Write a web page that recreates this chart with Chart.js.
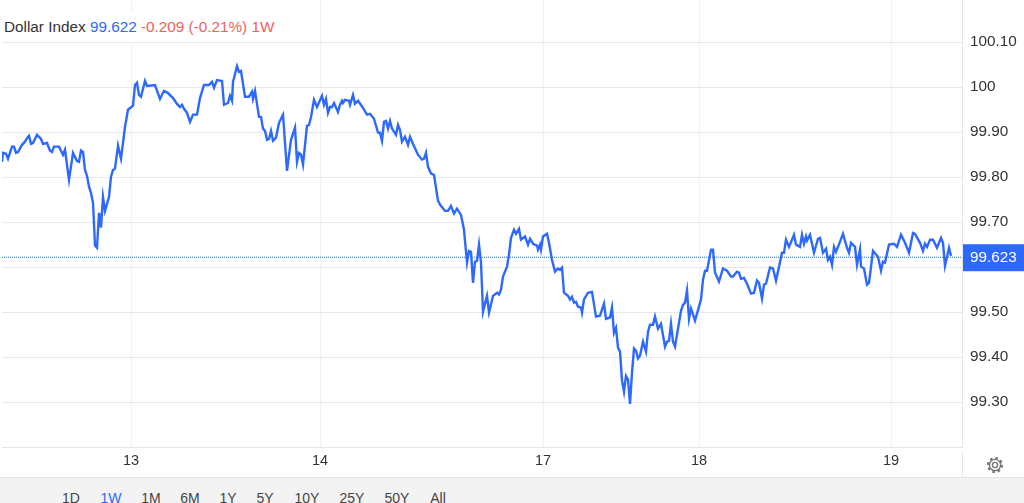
<!DOCTYPE html>
<html>
<head>
<meta charset="utf-8">
<title>Dollar Index</title>
<script src="https://cdn.jsdelivr.net/npm/chart.js@4"></script>
<style>
html, body { margin: 0; padding: 0; background: #fff; overflow: hidden; }
body { width: 1024px; height: 503px; position: relative; font-family: "Liberation Sans", Arial, sans-serif; }
#chart { position: absolute; left: 0; top: 0; }
#legend { position: absolute; left: 2px; top: 12px; height: 30px; line-height: 30px; padding-left: 2px; padding-right: 2px; background: #fff; font-size: 15.3px; white-space: nowrap; color: #333; }
#legend .last { color: #2d68ff; }
#legend .chg { color: #f25f5c; }
#footer { position: absolute; left: 0; top: 477px; width: 1024px; height: 26px; background: #f3f3f3; border-top: 1px solid #e4e4e4; box-sizing: border-box; overflow: hidden; }
#footer span { position: absolute; top: 12px; font-size: 14px; line-height: 16px; color: #444; transform: translateX(-50%); }
#footer span.on { color: #2d68ff; }
#gear { position: absolute; left: 985px; top: 455px; }
</style>
</head>
<body>
<canvas id="chart" width="1024" height="477" style="width:1024px;height:477px"></canvas>
<div id="legend">Dollar Index <span class="last">99.622</span> <span class="chg">-0.209 (-0.21%) 1W</span></div>
<svg id="gear" width="20" height="20" viewBox="0 0 20 20" fill="none" stroke="#777">
  <circle cx="10" cy="10" r="2.6" stroke-width="1.4"></circle>
  <circle cx="10" cy="10" r="5.6" stroke-width="1.4"></circle>
  <circle cx="10" cy="10" r="7" stroke-width="2.2" stroke-dasharray="2.7 2.8"></circle>
</svg>
<div id="footer"></div>
<script>
// Position along the time axis and the index value at that position
const times = [
    2, 3, 6, 8, 12, 14, 16, 18, 22, 25, 28, 29,
    31, 33, 37, 41, 43, 47, 50, 52, 54, 59, 63, 65,
    69, 73, 77, 79, 81, 83, 85, 87, 89, 91, 93, 95,
    97, 99, 101, 103, 105, 109, 111, 113, 115, 118, 121, 125,
    128, 133, 135, 137, 139, 141, 145, 147, 155, 160, 164, 168,
    173, 177, 180, 182, 184, 187, 190, 193, 197, 200, 204, 209,
    212, 214, 217, 222, 224, 228, 230, 232, 233, 237, 239, 241,
    245, 249, 252, 253, 255, 259, 261, 263, 265, 267, 269, 271,
    273, 276, 279, 283, 287, 291, 295, 297, 299, 301, 303, 307,
    309, 311, 314, 317, 322, 324, 326, 328, 330, 332, 334, 338,
    340, 342, 343, 345, 349, 350, 353, 355, 358, 363, 367, 370,
    374, 378, 380, 382, 384, 386, 388, 390, 392, 396, 398, 400,
    402, 405, 408, 410, 413, 418, 422, 424, 426, 428, 431, 434,
    438, 440, 445, 448, 451, 454, 457, 461, 464, 467, 469, 471,
    473, 475, 477, 479, 481, 483, 487, 489, 493, 497, 499, 501,
    503, 507, 509, 511, 514, 516, 519, 521, 525, 528, 530, 533,
    537, 538, 540, 541, 543, 547, 549, 552, 555, 558, 560, 562,
    564, 568, 570, 572, 574, 576, 578, 581, 582, 584, 588, 592,
    596, 600, 604, 606, 610, 612, 614, 616, 618, 620, 622, 624,
    626, 628, 630, 632, 634, 636, 638, 640, 643, 646, 648, 650,
    653, 655, 658, 661, 665, 667, 669, 671, 673, 675, 681, 683,
    685, 687, 689, 691, 695, 701, 703, 705, 707, 711, 713, 715,
    719, 723, 727, 731, 733, 737, 739, 741, 744, 747, 751, 754,
    757, 759, 762, 764, 766, 770, 773, 776, 779, 782, 784, 786,
    789, 794, 796, 800, 802, 804, 806, 807, 810, 814, 818, 820,
    823, 826, 828, 830, 832, 834, 836, 838, 843, 847, 849, 851,
    855, 857, 860, 861, 864, 867, 869, 873, 878, 881, 883, 885,
    889, 894, 897, 901, 905, 909, 913, 915, 920, 923, 925, 927,
    930, 933, 937, 941, 943, 945, 949, 951
];
const closes = [
    99.834, 99.854, 99.852, 99.841, 99.868, 99.868, 99.854, 99.856, 99.872, 99.879, 99.890, 99.892,
    99.874, 99.876, 99.894, 99.885, 99.874, 99.876, 99.859, 99.856, 99.868, 99.868, 99.850, 99.861,
    99.794, 99.854, 99.836, 99.834, 99.859, 99.856, 99.816, 99.803, 99.779, 99.765, 99.743, 99.648,
    99.643, 99.721, 99.688, 99.756, 99.725, 99.756, 99.801, 99.816, 99.819, 99.870, 99.841, 99.912,
    99.950, 99.959, 100.005, 100.010, 99.983, 99.979, 100.014, 100.003, 100.005, 99.974, 99.992, 99.987,
    99.976, 99.963, 99.956, 99.961, 99.952, 99.943, 99.923, 99.939, 99.939, 99.976, 100.005, 100.005,
    100.012, 99.999, 100.016, 100.014, 99.961, 99.965, 99.981, 99.970, 100.012, 100.047, 100.034, 100.036,
    99.979, 99.979, 99.990, 99.974, 99.992, 99.934, 99.934, 99.908, 99.903, 99.883, 99.885, 99.903,
    99.881, 99.888, 99.921, 99.939, 99.814, 99.883, 99.910, 99.834, 99.854, 99.850, 99.828, 99.914,
    99.916, 99.934, 99.972, 99.956, 99.981, 99.961, 99.974, 99.943, 99.956, 99.956, 99.965, 99.945,
    99.961, 99.970, 99.965, 99.972, 99.970, 99.961, 99.983, 99.963, 99.970, 99.954, 99.939, 99.941,
    99.930, 99.899, 99.899, 99.881, 99.923, 99.925, 99.908, 99.925, 99.908, 99.894, 99.916, 99.905,
    99.879, 99.890, 99.872, 99.890, 99.874, 99.850, 99.839, 99.841, 99.854, 99.823, 99.808, 99.805,
    99.748, 99.739, 99.725, 99.725, 99.736, 99.719, 99.730, 99.716, 99.683, 99.610, 99.636, 99.634,
    99.565, 99.612, 99.614, 99.650, 99.610, 99.501, 99.536, 99.499, 99.536, 99.543, 99.539, 99.550,
    99.579, 99.601, 99.628, 99.665, 99.683, 99.674, 99.685, 99.661, 99.668, 99.650, 99.663, 99.652,
    99.648, 99.639, 99.650, 99.639, 99.668, 99.674, 99.654, 99.616, 99.590, 99.597, 99.594, 99.599,
    99.543, 99.536, 99.528, 99.534, 99.521, 99.523, 99.512, 99.510, 99.499, 99.528, 99.543, 99.545,
    99.490, 99.492, 99.519, 99.485, 99.488, 99.510, 99.454, 99.465, 99.421, 99.412, 99.348, 99.323,
    99.358, 99.350, 99.296, 99.365, 99.419, 99.414, 99.397, 99.403, 99.434, 99.412, 99.456, 99.472,
    99.472, 99.490, 99.463, 99.474, 99.423, 99.434, 99.436, 99.474, 99.434, 99.423, 99.503, 99.516,
    99.521, 99.548, 99.485, 99.508, 99.481, 99.528, 99.572, 99.592, 99.592, 99.639, 99.639, 99.588,
    99.568, 99.597, 99.592, 99.579, 99.579, 99.590, 99.588, 99.574, 99.576, 99.563, 99.541, 99.543,
    99.570, 99.565, 99.530, 99.561, 99.563, 99.599, 99.597, 99.570, 99.601, 99.632, 99.632, 99.661,
    99.645, 99.672, 99.650, 99.645, 99.672, 99.652, 99.668, 99.659, 99.672, 99.632, 99.663, 99.665,
    99.632, 99.641, 99.616, 99.623, 99.605, 99.645, 99.634, 99.645, 99.674, 99.643, 99.632, 99.654,
    99.645, 99.605, 99.639, 99.601, 99.597, 99.561, 99.565, 99.636, 99.623, 99.592, 99.612, 99.610,
    99.650, 99.652, 99.645, 99.672, 99.654, 99.632, 99.676, 99.674, 99.654, 99.636, 99.652, 99.645,
    99.661, 99.661, 99.643, 99.665, 99.654, 99.603, 99.643, 99.625
];

const dayTicks = [131, 320, 543, 699, 891];
const dayLabels = ['13', '14', '17', '18', '19'];
const priceTicks = [99.2, 99.3, 99.4, 99.5, 99.6, 99.7, 99.8, 99.9, 100, 100.1];
const priceLabels = ['', '99.30', '99.40', '99.50', '', '99.70', '99.80', '99.90', '100', '100.10'];
const lastPrice = 99.622;
const lastPriceLabel = '99.623';
const periods = ['1D', '1W', '1M', '6M', '1Y', '5Y', '10Y', '25Y', '50Y', 'All'];
const periodCenters = [71, 111, 151, 190, 228, 265, 307, 352, 397, 438];

// Range buttons under the chart
const footer = document.getElementById('footer');
periods.forEach((p, i) => {
    const el = document.createElement('span');
    el.textContent = p;
    el.style.left = periodCenters[i] + 'px';
    if (p === '1W') el.className = 'on';
    footer.appendChild(el);
});

// Blue price tag on the axis, and the axis line stub under the plot
const priceTag = {
    id: 'priceTag',
    afterDraw(chart) {
        const { ctx, chartArea } = chart;
        const y = chart.scales.y.getPixelForValue(lastPrice);
        ctx.save();
        ctx.strokeStyle = '#e6e6e6';
        ctx.lineWidth = 1;
        ctx.beginPath();
        ctx.moveTo(chartArea.right + 0.5, chartArea.bottom + 5);
        ctx.lineTo(chartArea.right + 0.5, 477);
        ctx.stroke();
        ctx.fillStyle = '#2d68ff';
        ctx.fillRect(chartArea.right + 1, y - 13, 1024 - chartArea.right - 1, 27);
        ctx.fillStyle = '#fff';
        ctx.font = '15.3px "Liberation Sans", Arial, sans-serif';
        ctx.textAlign = 'left';
        ctx.textBaseline = 'middle';
        ctx.fillText(lastPriceLabel, chartArea.right + 8, y + 1);
        ctx.restore();
    }
};

const ctx = document.getElementById('chart').getContext('2d');
new Chart(ctx, {
    type: 'line',
    data: {
        datasets: [{
            label: 'Last',
            data: [{ x: 2, y: lastPrice }, { x: 962, y: lastPrice }],
            borderColor: '#2d68ff',
            borderWidth: 1,
            borderDash: [1, 1],
            pointRadius: 0
        }, {
            label: 'Dollar Index',
            data: times.map((t, i) => ({ x: t, y: closes[i] })),
            borderColor: '#2d68ff',
            borderWidth: 2.4,
            pointRadius: 0,
            tension: 0
        }]
    },
    options: {
        responsive: false,
        animation: false,
        devicePixelRatio: 1,
        layout: { padding: { left: 2, top: 0, right: 0, bottom: 0 } },
        plugins: { legend: { display: false }, tooltip: { enabled: false } },
        scales: {
            x: {
                type: 'linear',
                min: 2,
                max: 962,
                afterBuildTicks(axis) {
                    axis.ticks = dayTicks.map(v => ({ value: v }));
                },
                afterFit(axis) {
                    axis.height = 30;
                    axis.paddingLeft = 0;
                    axis.paddingRight = 0;
                },
                ticks: {
                    autoSkip: false,
                    maxRotation: 0,
                    padding: 5,
                    color: '#333',
                    font: { family: '"Liberation Sans", Arial, sans-serif', size: 14.5 },
                    callback: value => dayLabels[dayTicks.indexOf(value)]
                },
                grid: { color: '#f2f2f2', drawTicks: false },
                border: { color: '#e6e6e6' }
            },
            y: {
                type: 'linear',
                position: 'right',
                min: 99.2,
                max: 100.194,
                afterBuildTicks(axis) {
                    axis.ticks = priceTicks.map(v => ({ value: v }));
                },
                afterFit(axis) {
                    axis.width = 62;
                    axis.paddingTop = 0;
                    axis.paddingBottom = 0;
                },
                ticks: {
                    autoSkip: false,
                    padding: 8,
                    color: '#333',
                    font: { family: '"Liberation Sans", Arial, sans-serif', size: 15.3 },
                    callback: value => priceLabels[priceTicks.indexOf(value)]
                },
                grid: { color: '#e8e8e8', drawTicks: false },
                border: { color: '#e6e6e6' }
            }
        }
    },
    plugins: [priceTag]
});
</script>
</body>
</html>
